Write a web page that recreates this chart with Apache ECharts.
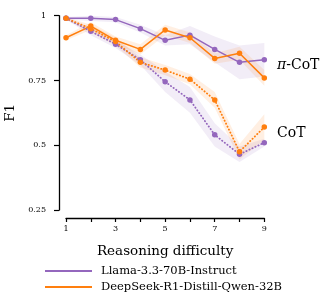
<!DOCTYPE html>
<html><head><meta charset="utf-8">
<script src="https://cdn.jsdelivr.net/npm/echarts@6/dist/echarts.min.js"></script>
<style>html,body{margin:0;padding:0;background:#fff}#c{width:330px;height:300px}</style>
</head><body><div id="c"></div>
<script>
const difficulty = [1, 2, 3, 4, 5, 6, 7, 8, 9];
const llamaPi = [0.99, 0.99, 0.985, 0.95, 0.905, 0.925, 0.87, 0.82, 0.83];
const llamaPiErr = [0.005, 0.01, 0.01, 0.015, 0.02, 0.035, 0.05, 0.065, 0.065];
const deepPi = [0.915, 0.96, 0.905, 0.87, 0.945, 0.915, 0.835, 0.855, 0.76];
const deepPiErr = [0.01, 0.015, 0.015, 0.02, 0.02, 0.02, 0.02, 0.025, 0.03];
const llamaCot = [0.99, 0.94, 0.89, 0.83, 0.745, 0.675, 0.54, 0.465, 0.51];
const llamaCotErr = [0.005, 0.015, 0.015, 0.02, 0.04, 0.05, 0.045, 0.03, 0.015];
const deepCot = [0.99, 0.95, 0.90, 0.82, 0.79, 0.755, 0.675, 0.475, 0.57];
const deepCotErr = [0.005, 0.015, 0.015, 0.02, 0.02, 0.02, 0.03, 0.03, 0.05];
const yTicks = [0.25, 0.5, 0.75, 1];
const seriesNames = ['Llama-3.3-70B-Instruct', 'DeepSeek-R1-Distill-Qwen-32B'];

const PURPLE = '#9467bd', ORANGE = '#ff7f0e';
const FONT = 'DejaVu Serif';

function band(vals, errs, color) {
  const data = difficulty.map((x, i) => [x, vals[i] - errs[i], vals[i] + errs[i]]);
  return {
    type: 'custom', silent: true, z: 1,
    data: data,
    encode: { x: 0, y: [1, 2] },
    renderItem: function (params, api) {
      if (params.dataIndex !== 0) return null;
      const up = data.map(d => api.coord([d[0], d[2]]));
      const lo = data.map(d => api.coord([d[0], d[1]])).reverse();
      return { type: 'polygon', shape: { points: up.concat(lo) },
        style: { fill: color, opacity: 0.12 } };
    }
  };
}
function line(name, vals, color, dotted) {
  return {
    type: 'line', name: name, z: 3,
    data: difficulty.map((x, i) => [x, vals[i]]),
    symbol: 'circle', symbolSize: 5.5,
    itemStyle: { color: color },
    lineStyle: { color: color, width: dotted ? 1.8 : 1.5, type: dotted ? [0.3, 3] : 'solid', cap: dotted ? 'round' : 'butt' },
    emphasis: { disabled: true }
  };
}
function legendFor(name, top) {
  return {
    data: [name], orient: 'vertical', left: 40, top: top,
    icon: 'rect', itemWidth: 47, itemHeight: 2,
    textStyle: { fontFamily: FONT, fontSize: 11.5, color: '#000', padding: [0, 0, 0, 4] }
  };
}

const chart = echarts.init(document.getElementById('c'), null, { renderer: 'canvas' });
chart.setOption({
  animation: false,
  grid: { left: 66, right: 65.7, top: 15.7, bottom: 90, containLabel: false, outerBoundsMode: 'none' },
  xAxis: {
    type: 'value', min: 1, max: 9, interval: 1, offset: 8,
    name: 'Reasoning difficulty', nameLocation: 'middle', nameGap: 26,
    nameTextStyle: { fontFamily: FONT, fontSize: 13.5, color: '#000' },
    axisLine: { show: true, lineStyle: { color: '#000', width: 1.3 } },
    axisTick: { show: true, length: 4, lineStyle: { color: '#000', width: 1.2 } },
    axisLabel: { fontFamily: FONT, fontSize: 8, color: '#000', margin: 7,
      formatter: v => (v % 2 === 1 ? String(v) : '') },
    splitLine: { show: false }
  },
  yAxis: {
    type: 'value', min: 0.25, max: 1, interval: 0.25, offset: 7,
    name: 'F1', nameLocation: 'middle', nameGap: 37,
    nameTextStyle: { fontFamily: FONT, fontSize: 13.5, color: '#000' },
    axisLine: { show: true, lineStyle: { color: '#000', width: 1.3 } },
    axisTick: { show: true, length: 5, lineStyle: { color: '#000', width: 1.2 } },
    axisLabel: { fontFamily: FONT, fontSize: 8, color: '#000', margin: 13,
      formatter: v => (yTicks.indexOf(v) >= 0 ? String(v) : '') },
    splitLine: { show: false }
  },
  legend: [legendFor(seriesNames[0], 260), legendFor(seriesNames[1], 276)],
  graphic: [
    { type: 'text', left: 277, top: 58, style: { text: '{i|π}-CoT', fontFamily: FONT, fontSize: 14, fill: '#000',
      rich: { i: { fontFamily: FONT, fontStyle: 'italic', fontSize: 14 } } } },
    { type: 'text', left: 277, top: 126, style: { text: 'CoT', fontFamily: FONT, fontSize: 14, fill: '#000' } }
  ],
  series: [
    band(llamaPi, llamaPiErr, PURPLE),
    band(deepPi, deepPiErr, ORANGE),
    band(llamaCot, llamaCotErr, PURPLE),
    band(deepCot, deepCotErr, ORANGE),
    line(seriesNames[0], llamaPi, PURPLE, false),
    line(seriesNames[1], deepPi, ORANGE, false),
    line('Llama CoT', llamaCot, PURPLE, true),
    line('DeepSeek CoT', deepCot, ORANGE, true)
  ]
});
</script></body></html>
